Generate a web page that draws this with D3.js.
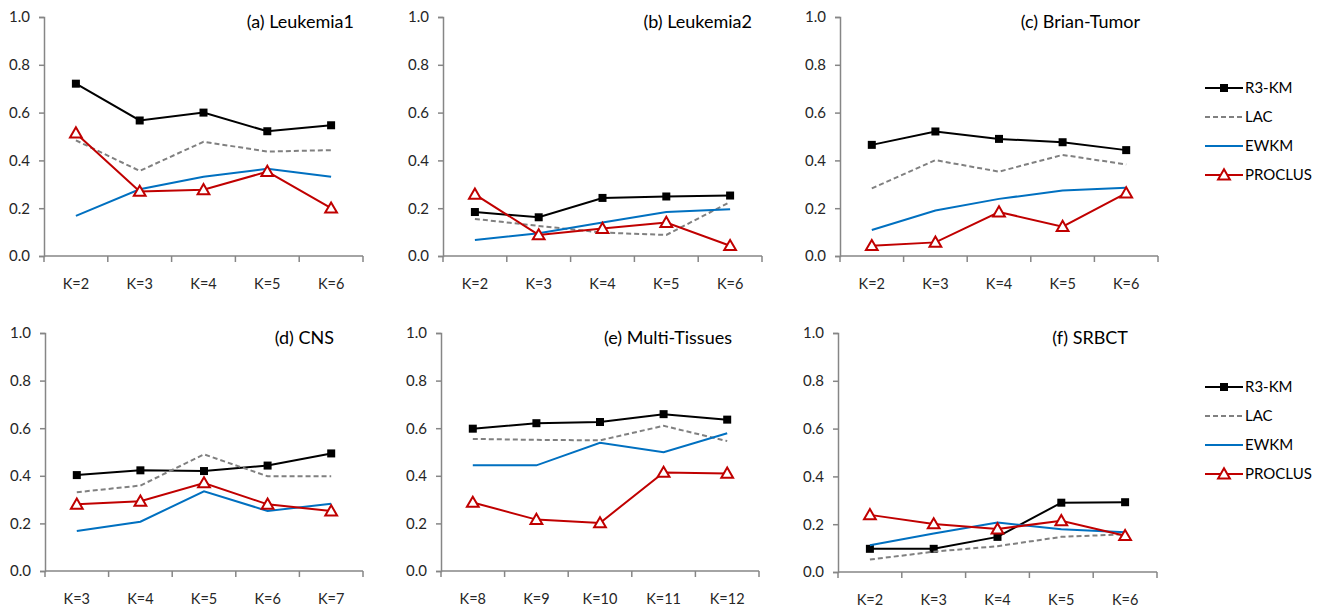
<!DOCTYPE html>
<html>
<head>
<meta charset="utf-8">
<script src="https://cdn.jsdelivr.net/npm/d3@7"></script>
<style>
  html, body { margin: 0; padding: 0; background: #fff; }
  svg { display: block; font-family: Lato, "Open Sans", sans-serif; }
</style>
</head>
<body>
<svg id="chart" width="1322" height="608"></svg>
<script>
// ---------- DATA ----------
const panelTitles = ["(a) Leukemia1", "(b) Leukemia2", "(c) Brian-Tumor", "(d) CNS", "(e) Multi-Tissues", "(f) SRBCT"];
const catsA = ["K=2", "K=3", "K=4", "K=5", "K=6"];
const catsB = ["K=2", "K=3", "K=4", "K=5", "K=6"];
const catsC = ["K=2", "K=3", "K=4", "K=5", "K=6"];
const catsD = ["K=3", "K=4", "K=5", "K=6", "K=7"];
const catsE = ["K=8", "K=9", "K=10", "K=11", "K=12"];
const catsF = ["K=2", "K=3", "K=4", "K=5", "K=6"];
const seriesNames = ["R3-KM", "LAC", "EWKM", "PROCLUS"];
// one inner array per panel (a..f)
const r3km = [
  [0.721, 0.567, 0.600, 0.522, 0.547],
  [0.184, 0.162, 0.243, 0.249, 0.253],
  [0.465, 0.521, 0.490, 0.476, 0.443],
  [0.403, 0.423, 0.420, 0.443, 0.494],
  [0.598, 0.621, 0.626, 0.659, 0.636],
  [0.097, 0.097, 0.147, 0.290, 0.292]
];
const lac = [
  [0.484, 0.356, 0.478, 0.437, 0.443],
  [0.155, 0.126, 0.098, 0.088, 0.226],
  [0.283, 0.401, 0.353, 0.423, 0.383],
  [0.331, 0.359, 0.490, 0.398, 0.398],
  [0.555, 0.551, 0.549, 0.610, 0.546],
  [0.052, 0.085, 0.108, 0.147, 0.158]
];
const ewkm = [
  [0.168, 0.279, 0.332, 0.365, 0.332],
  [0.067, 0.095, 0.140, 0.184, 0.196],
  [0.109, 0.190, 0.239, 0.274, 0.286],
  [0.168, 0.207, 0.335, 0.252, 0.283],
  [0.444, 0.444, 0.539, 0.499, 0.579],
  [0.112, 0.161, 0.207, 0.179, 0.166]
];
const proclus = [
  [0.514, 0.270, 0.277, 0.353, 0.200],
  [0.258, 0.088, 0.115, 0.140, 0.043],
  [0.043, 0.057, 0.184, 0.123, 0.263],
  [0.280, 0.293, 0.370, 0.280, 0.252],
  [0.288, 0.216, 0.202, 0.414, 0.410],
  [0.239, 0.201, 0.180, 0.214, 0.152]
];
const yTicks = [0, 0.2, 0.4, 0.6, 0.8, 1.0];

// ---------- LAYOUT / STYLE ----------
const allCats = [catsA, catsB, catsC, catsD, catsE, catsF];
const boxes = [
  {l: 44,  t: 17,  r: 363,  b: 256, te: 354},
  {l: 443, t: 17,  r: 762,  b: 256, te: 752},
  {l: 840, t: 17,  r: 1158, b: 256, te: 1140},
  {l: 45,  t: 333, r: 363,  b: 571, te: 334},
  {l: 441, t: 333, r: 759,  b: 571, te: 732},
  {l: 838, t: 333, r: 1157, b: 572, te: 1128}
];
const styles = [
  {color: "#000000", dash: null, marker: "square"},
  {color: "#808080", dash: "5,3", marker: null},
  {color: "#0070C0", dash: null, marker: null},
  {color: "#C00000", dash: null, marker: "triangle"}
];
const seriesData = [r3km, lac, ewkm, proclus];
const axisColor = "#868686";
const textColor = "#262626";

const svg = d3.select("#chart");

function drawMarker(g, type, x, y, color) {
  if (type === "square") {
    g.append("rect").attr("x", x - 4).attr("y", y - 4).attr("width", 8).attr("height", 8)
      .attr("fill", color);
  } else if (type === "triangle") {
    g.append("path")
      .attr("d", d3.symbol().type(d3.symbolTriangle).size(60)())
      .attr("transform", `translate(${x},${y + 1})`)
      .attr("fill", "#fff").attr("stroke", color).attr("stroke-width", 2);
  }
}

boxes.forEach((bx, pi) => {
  const cats = allCats[pi];
  const g = svg.append("g");
  const x = d3.scaleBand().domain(cats).range([bx.l, bx.r]).paddingInner(0).paddingOuter(0);
  const y = d3.scaleLinear().domain([0, 1]).range([bx.b, bx.t]);

  // y axis
  const yAxis = d3.axisLeft(y).tickValues(yTicks).tickFormat(d3.format(".1f")).tickSize(5).tickPadding(9);
  const ya = g.append("g").attr("transform", `translate(${bx.l},0)`).call(yAxis);
  ya.select(".domain").attr("stroke", axisColor).attr("stroke-width", 1.5);
  ya.selectAll(".tick line").attr("stroke", axisColor).attr("stroke-width", 1.5);
  ya.selectAll(".tick text").attr("fill", textColor).attr("font-size", 15)
    .attr("font-family", "Lato, 'Open Sans', sans-serif");

  // x axis line + boundary ticks
  const xa = g.append("g");
  xa.append("line").attr("x1", bx.l).attr("x2", bx.r).attr("y1", bx.b).attr("y2", bx.b)
    .attr("stroke", axisColor).attr("stroke-width", 1.5);
  const bounds = cats.map(c => x(c)).concat([bx.r]);
  xa.selectAll("line.tk").data(bounds).enter().append("line").attr("class", "tk")
    .attr("x1", d => d).attr("x2", d => d).attr("y1", bx.b).attr("y2", bx.b + 6)
    .attr("stroke", axisColor).attr("stroke-width", 1.5);
  xa.selectAll("text").data(cats).enter().append("text")
    .attr("x", d => x(d) + x.bandwidth() / 2).attr("y", bx.b + 28)
    .attr("dy", "0.35em").attr("text-anchor", "middle")
    .attr("font-size", 14.5).attr("fill", textColor).text(d => d);

  // series
  seriesData.forEach((sd, si) => {
    const vals = sd[pi];
    const st = styles[si];
    const line = d3.line().x((d, i) => x(cats[i]) + x.bandwidth() / 2).y(d => y(d));
    g.append("path").datum(vals).attr("d", line).attr("fill", "none")
      .attr("stroke", st.color).attr("stroke-width", 2)
      .attr("stroke-dasharray", st.dash);
    if (st.marker) {
      vals.forEach((v, i) => drawMarker(g, st.marker, x(cats[i]) + x.bandwidth() / 2, y(v), st.color));
    }
  });

  // title
  g.append("text").attr("x", bx.te).attr("y", bx.t + 5).attr("dy", "0.35em")
    .attr("text-anchor", "end").attr("font-size", 18).attr("fill", "#000").text(panelTitles[pi]);
});

// legends (right of panels c and f)
const legendTops = [88, 387];
legendTops.forEach(ly => {
  const lg = svg.append("g");
  seriesNames.forEach((name, si) => {
    const st = styles[si];
    const yy = ly + si * 29;
    lg.append("line").attr("x1", 1205).attr("x2", 1243).attr("y1", yy).attr("y2", yy)
      .attr("stroke", st.color).attr("stroke-width", 2).attr("stroke-dasharray", st.dash);
    if (st.marker) drawMarker(lg, st.marker, 1224, yy, st.color);
    lg.append("text").attr("x", 1245).attr("y", yy).attr("dy", "0.35em")
      .attr("font-size", 15).attr("fill", "#000").text(name);
  });
});
</script>
</body>
</html>
